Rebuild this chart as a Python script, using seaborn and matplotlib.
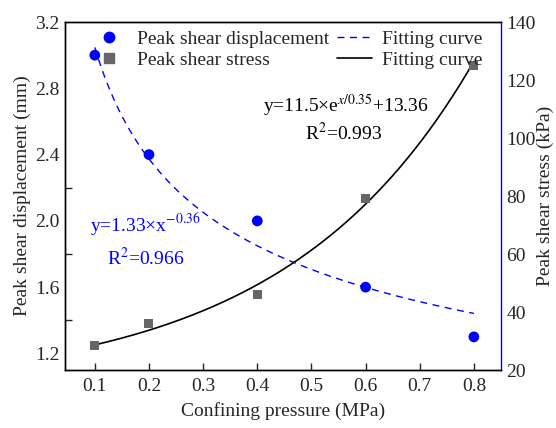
import numpy as np
import pandas as pd
import matplotlib
matplotlib.use("Agg")
import matplotlib.pyplot as plt
import seaborn as sns
from matplotlib.lines import Line2D

sns.set_style("white")
plt.rcParams['font.family'] = ['Liberation Serif', 'DejaVu Serif']
plt.rcParams['mathtext.fontset'] = 'stix'
plt.rcParams['font.size'] = 14

# Data
pressure = [0.1, 0.2, 0.4, 0.6, 0.8]
displacement = [3.0, 2.4, 2.0, 1.6, 1.3]
stress = [28.3, 36.2, 46.2, 79.3, 125.0]

# Fit parameters (from the chart annotations)
pow_a, pow_b = 1.33, -0.36
exp_a, exp_t, exp_c = 11.5, 0.35, 13.36

xfit = np.linspace(0.1, 0.8, 200)
disp_fit = pow_a * xfit ** pow_b
stress_fit = exp_a * np.exp(xfit / exp_t) + exp_c

df_pts = pd.DataFrame({"p": pressure, "d": displacement, "s": stress})
df_fit = pd.DataFrame({"p": xfit, "d": disp_fit, "s": stress_fit})

FS = 14
fig = plt.figure(figsize=(5.56, 4.28), dpi=100)
ax = fig.add_axes([0.117, 0.1355, 0.784, 0.813])
ax2 = ax.twinx()

sns.lineplot(data=df_fit, x="p", y="d", ax=ax, color="#0000ff", linestyle=(0, (5, 4)), lw=1.0, zorder=2)
sns.scatterplot(data=df_pts, x="p", y="d", ax=ax, color="#0000ff", marker="o", s=60, edgecolor="none", zorder=3)
sns.lineplot(data=df_fit, x="p", y="s", ax=ax2, color="black", lw=1.2, zorder=2)
sns.scatterplot(data=df_pts, x="p", y="s", ax=ax2, color="#666666", marker="s", s=42, edgecolor="none", zorder=3)

ax.set_xlim(0.045, 0.85)
ax.set_ylim(1.1, 3.2)
ax2.set_ylim(20, 140)

ax.set_xticks([0.1, 0.2, 0.3, 0.4, 0.5, 0.6, 0.7, 0.8])
ax.set_xticklabels(["0.1", "0.2", "0.3", "0.4", "0.5", "0.6", "0.7", "0.8"])
ax.set_yticks([1.2, 1.6, 2.0, 2.4, 2.8, 3.2])
ax.set_yticklabels(["1.2", "1.6", "2.0", "2.4", "2.8", "3.2"])
ax.set_yticks([1.4, 1.8, 2.2], minor=True)
ax2.set_yticks([20, 40, 60, 80, 100, 120, 140])

ax.tick_params(axis='x', direction='in', length=5, width=1, bottom=True, pad=6, labelsize=FS)
ax.tick_params(axis='y', which='major', length=0, pad=4, labelsize=FS)
ax.tick_params(axis='y', which='minor', direction='in', length=5, width=1, left=True)
ax2.tick_params(axis='y', length=0, pad=4, labelsize=FS)

ax.set_xlabel("Confining pressure (MPa)", fontsize=FS, labelpad=5)
ax.set_ylabel("Peak shear displacement (mm)", fontsize=FS, labelpad=3)
ax2.set_ylabel("Peak shear stress (kPa)", fontsize=FS)
ax2.yaxis.set_label_coords(1.083, 0.5)

for sp in ax.spines.values():
    sp.set_color("black"); sp.set_linewidth(1.0)
for sp in ax2.spines.values():
    sp.set_color("black"); sp.set_linewidth(1.0)
ax2.spines['right'].set_color("#0000ff")
ax.spines['right'].set_visible(False)

ax.text(0.091, 1.975, "y=1.33×x$^{-0.36}$", color="#0000ff", fontsize=FS, va="center")
ax.text(0.1226, 1.776, "R$^{2}$=0.966", color="#0000ff", fontsize=FS, va="center")
ax2.text(0.564, 111, "y=11.5×e$^{x/0.35}$+13.36", color="black", fontsize=FS, va="center", ha="center")
ax2.text(0.560, 101.7, "R$^{2}$=0.993", color="black", fontsize=FS, va="center", ha="center")

handles = [
    Line2D([], [], color="#0000ff", marker="o", linestyle="none", markersize=7.5),
    Line2D([], [], color="#666666", marker="s", linestyle="none", markersize=6.5),
    Line2D([], [], color="#0000ff", linestyle=(0, (5, 4)), lw=1.0),
    Line2D([], [], color="black", lw=1.2),
]
labels = ["Peak shear displacement", "Peak shear stress", "Fitting curve", "Fitting curve"]
if ax.get_legend():
    ax.get_legend().remove()
if ax2.get_legend():
    ax2.get_legend().remove()
ax2.legend(handles, labels, ncol=2, frameon=False, loc="upper left",
           bbox_to_anchor=(0.035, 1.008), fontsize=FS, handlelength=1.8,
           columnspacing=0.4, handletextpad=0.55, labelspacing=0.18, borderaxespad=0.15)

fig.savefig("out.png", dpi=100)
